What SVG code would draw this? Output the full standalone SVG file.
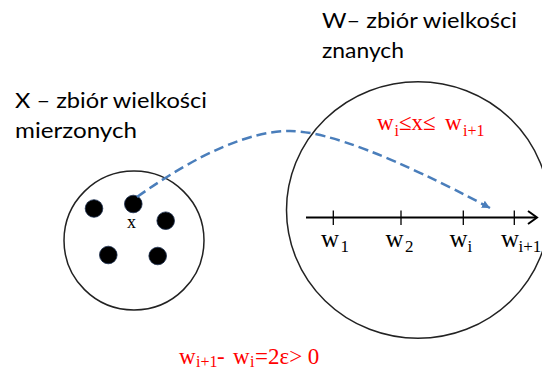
<svg xmlns="http://www.w3.org/2000/svg" width="542" height="373" viewBox="0 0 542 373">
<defs>
<style>
.set{fill:none;stroke:#222;stroke-width:1.5}
.dot{fill:#000;stroke:#1c2f4f;stroke-width:0.8}
.hdr{font-family:Lato,"Liberation Sans",sans-serif;font-size:21px;fill:#000}
.ser{font-family:"Liberation Serif","Times New Roman",serif;fill:#000}
.red{font-family:"Liberation Serif","Times New Roman",serif;fill:#ff0000}
.axis{stroke:#000;stroke-width:2;fill:none}
.tick{stroke:#000;stroke-width:1.3}
.conn{fill:none;stroke:#4a7ebb;stroke-width:2.5;stroke-dasharray:10 5}
</style>
<marker id="blueHead" viewBox="0 0 10 10" refX="10" refY="5" markerWidth="3.2" markerHeight="3.2" orient="auto" markerUnits="strokeWidth">
<path d="M0,0 L10,5 L0,10 Z" fill="#4a7ebb"/>
</marker>
</defs>

<g id="label-X">
<text class="hdr" x="15" y="108" textLength="192" lengthAdjust="spacingAndGlyphs">X – zbiór wielkości</text>
<text class="hdr" x="15" y="138" textLength="122" lengthAdjust="spacingAndGlyphs">mierzonych</text>
</g>

<g id="label-W">
<text class="hdr" x="322" y="28" textLength="195" lengthAdjust="spacingAndGlyphs">W– zbiór wielkości</text>
<text class="hdr" x="322" y="58" textLength="82" lengthAdjust="spacingAndGlyphs">znanych</text>
</g>

<g id="setX">
<ellipse class="set" cx="134" cy="240.5" rx="70" ry="69.5"/>
<circle class="dot" cx="94" cy="208.5" r="8.8"/>
<circle class="dot" cx="133.3" cy="204" r="8.8"/>
<circle class="dot" cx="165.7" cy="220.7" r="8.8"/>
<circle class="dot" cx="108.3" cy="255" r="8.8"/>
<circle class="dot" cx="157.7" cy="256" r="8.8"/>
<text class="ser" x="131.5" y="228" font-size="18" text-anchor="middle">x</text>
</g>

<g id="setW">
<ellipse class="set" cx="418" cy="210" rx="131.5" ry="128.3"/>
<line class="axis" x1="306" y1="217.5" x2="536" y2="217.5"/>
<path class="axis" d="M528,211 L537,217.5 L528,224"/>
<line class="tick" x1="333.3" y1="210.5" x2="333.3" y2="225"/>
<line class="tick" x1="401" y1="210.5" x2="401" y2="225"/>
<line class="tick" x1="463.3" y1="210.5" x2="463.3" y2="225"/>
<line class="tick" x1="514.3" y1="210.5" x2="514.3" y2="225"/>
<text class="ser" font-size="25"><tspan x="321" y="246.5">w</tspan><tspan x="340.5" y="252" font-size="17">1</tspan></text>
<text class="ser" font-size="25"><tspan x="385.5" y="246.5">w</tspan><tspan x="405" y="252" font-size="17">2</tspan></text>
<text class="ser" font-size="25"><tspan x="449.5" y="246.5">w</tspan><tspan x="467.5" y="252" font-size="17">i</tspan></text>
<text class="ser" font-size="25"><tspan x="501" y="246.5">w</tspan><tspan x="518.5" y="252" font-size="17">i+1</tspan></text>
<text class="red" font-size="23"><tspan x="377" y="130">w</tspan><tspan x="394.5" y="136" font-size="16">i</tspan><tspan x="399" y="130">≤x≤</tspan><tspan x="445" y="130">w</tspan><tspan x="463" y="136" font-size="16">i+1</tspan></text>
</g>

<g id="connectors">
<path class="conn" d="M137,197 Q230,131 290,131 Q345,131 490,208" marker-end="url(#blueHead)"/>
</g>

<g id="formula">
<text class="red" font-size="23"><tspan x="179" y="363.5">w</tspan><tspan x="196" y="367" font-size="16">i+1</tspan><tspan x="217" y="363.5">-</tspan><tspan x="233" y="363.5">w</tspan><tspan x="250" y="367" font-size="16">i</tspan><tspan x="255" y="363.5">=2ε&gt; 0</tspan></text>
</g>
</svg>
